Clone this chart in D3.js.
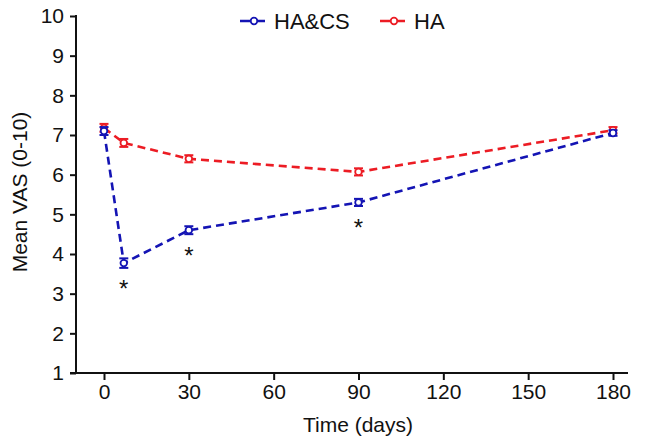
<!DOCTYPE html>
<html><head><meta charset="utf-8">
<script src="https://cdn.jsdelivr.net/npm/d3@7"></script>
<style>body{margin:0;background:#fff}svg{display:block}text{font-family:"Liberation Sans",Arial,sans-serif;fill:#111}</style>
</head><body><svg id="c" width="646" height="446"></svg>
<script>
const days = [0, 7, 30, 90, 180];
const haCsMean = [7.1, 3.77, 4.6, 5.3, 7.05];
const haCsErr = [0.1, 0.12, 0.1, 0.09, 0.07];
const haMean = [7.18, 6.8, 6.4, 6.07, 7.12];
const haErr = [0.1, 0.1, 0.09, 0.09, 0.08];
const sigDays = [7, 30, 90];
const xTicks = [0, 30, 60, 90, 120, 150, 180];
const yTicks = [1, 2, 3, 4, 5, 6, 7, 8, 9, 10];
const seriesNames = ["HA&CS", "HA"];
const seriesColors = ["#1414b4", "#ec1c24"];

const svg = d3.select("#c");
const x = d3.scaleLinear().domain([0, 180]).range([104, 613]);
const y = d3.scaleLinear().domain([1, 10]).range([373, 16]);

// axes
const gx = svg.append("g").attr("transform", "translate(0,373)")
  .call(d3.axisBottom(x).tickValues(xTicks).tickSize(7).tickPadding(4).tickFormat(d3.format("d")));
gx.select(".domain").remove();
gx.append("line").attr("x1", 70).attr("x2", 628).attr("stroke", "#111").attr("stroke-width", 2);
gx.selectAll(".tick line").attr("stroke", "#111").attr("stroke-width", 2);
gx.selectAll(".tick text").attr("font-size", 21).attr("fill", "#111");

const gy = svg.append("g").attr("transform", "translate(76,0)")
  .call(d3.axisLeft(y).tickValues(yTicks).tickSize(6).tickPadding(6).tickFormat(d3.format("d")));
gy.select(".domain").remove();
gy.append("line").attr("y1", 15).attr("y2", 374).attr("stroke", "#111").attr("stroke-width", 2);
gy.selectAll(".tick line").attr("stroke", "#111").attr("stroke-width", 2);
gy.selectAll(".tick text").attr("font-size", 21).attr("fill", "#111");

svg.append("text").attr("x", 358).attr("y", 432).attr("text-anchor", "middle").attr("font-size", 21).text("Time (days)");
svg.append("text").attr("transform", "translate(27,192) rotate(-90)").attr("text-anchor", "middle").attr("font-size", 21).text("Mean VAS (0-10)");

const series = [
  {name: seriesNames[1], color: seriesColors[1], mean: haMean, err: haErr},
  {name: seriesNames[0], color: seriesColors[0], mean: haCsMean, err: haCsErr}
];
const line = d3.line().x(d => x(d.d)).y(d => y(d.v));
series.forEach(s => {
  const pts = days.map((d, i) => ({d, v: s.mean[i], e: s.err[i]}));
  const g = svg.append("g");
  g.append("path").datum(pts).attr("d", line).attr("fill", "none")
    .attr("stroke", s.color).attr("stroke-width", 2.6).attr("stroke-dasharray", "8,5");
  const eb = g.selectAll(".eb").data(pts).enter().append("g");
  eb.append("line").attr("x1", d => x(d.d)).attr("x2", d => x(d.d))
    .attr("y1", d => y(d.v - d.e)).attr("y2", d => y(d.v + d.e)).attr("stroke", s.color).attr("stroke-width", 2);
  [-1, 1].forEach(k => {
    eb.append("line").attr("x1", d => x(d.d) - 4.5).attr("x2", d => x(d.d) + 4.5)
      .attr("y1", d => y(d.v + k * d.e)).attr("y2", d => y(d.v + k * d.e)).attr("stroke", s.color).attr("stroke-width", 2);
  });
  eb.append("circle").attr("cx", d => x(d.d)).attr("cy", d => y(d.v)).attr("r", 3.3)
    .attr("fill", "#fff").attr("stroke", s.color).attr("stroke-width", 1.8);
});

// significance asterisks
svg.selectAll(".sig").data(sigDays).enter().append("text")
  .attr("x", d => x(d)).attr("y", d => y(haCsMean[days.indexOf(d)]) + 34)
  .attr("text-anchor", "middle").attr("font-size", 24).text("*");

// legend
const leg = [{name: seriesNames[0], color: seriesColors[0], x0: 240}, {name: seriesNames[1], color: seriesColors[1], x0: 380}];
leg.forEach(l => {
  const g = svg.append("g");
  g.append("line").attr("x1", l.x0).attr("x2", l.x0 + 25).attr("y1", 21).attr("y2", 21)
    .attr("stroke", l.color).attr("stroke-width", 2.6).attr("stroke-dasharray", "10,3,2,3");
  g.append("circle").attr("cx", l.x0 + 14).attr("cy", 21).attr("r", 3.3).attr("fill", "#fff").attr("stroke", l.color).attr("stroke-width", 1.8);
  g.append("text").attr("x", l.x0 + 34).attr("y", 29).attr("font-size", 22).text(l.name);
});
</script></body></html>
